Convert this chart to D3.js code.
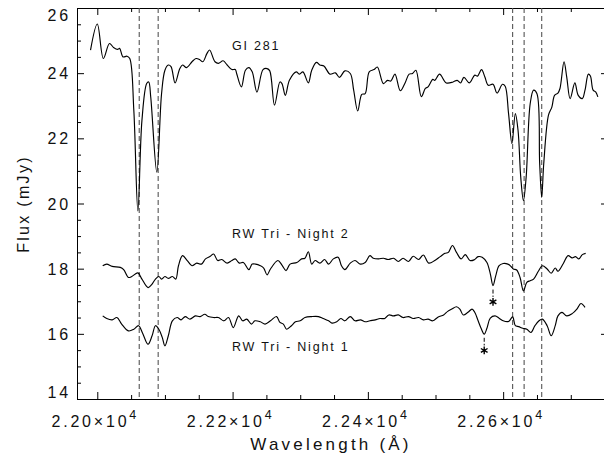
<!DOCTYPE html>
<html>
<head>
<meta charset="utf-8">
<script src="https://cdn.jsdelivr.net/npm/d3@7"></script>
<style>
  body { margin: 0; background: #fff; }
  text { font-family: "Liberation Sans", Arial, sans-serif; fill: #111; }
</style>
</head>
<body>
<script>
// GI 281 spectrum (wavelength in Angstrom, flux in mJy)
const gi281Wave = [21990,22000,22009,22018,22024,22030,22033,22038,22044,22048,22054,22060,22066,22073,22076,22079,22088,22095,22100,22105,22109,22115,22122,22126,22132,22140,22146,22151,22156,22162,22166,22174,22179,22186,22192,22199,22204,22206,22213,22219,22224,22229,22236,22245,22251,22255,22262,22270,22273,22278,22284,22294,22299,22304,22312,22317,22324,22329,22335,22344,22352,22358,22366,22374,22379,22385,22391,22396,22402,22409,22414,22423,22429,22434,22440,22448,22455,22461,22466,22471,22479,22485,22489,22496,22499,22506,22516,22526,22532,22537,22542,22550,22558,22562,22568,22573,22578,22585,22591,22599,22603,22608,22613,22618,22622,22626,22630,22634,22640,22645,22650,22654,22657,22660,22667,22672,22676,22681,22684,22690,22694,22699,22706,22711,22717,22721,22726,22729,22733,22737,22740];
const gi281Flux = [24.71,25.51,24.45,24.91,24.79,24.73,24.76,24.50,24.52,24.45,22.86,19.77,22.55,23.68,23.73,23.27,20.96,23.37,24.09,24.25,24.20,23.70,24.14,24.25,24.17,24.35,24.45,24.42,24.35,24.60,24.71,24.35,24.30,24.38,24.25,24.11,24.11,23.99,23.58,24.09,24.17,24.04,23.42,24.11,24.14,24.07,23.02,23.73,23.68,23.32,23.78,24.04,23.97,24.04,23.70,24.09,24.33,24.25,24.22,23.97,24.01,23.87,24.07,23.99,23.48,22.84,23.35,23.37,24.04,24.11,24.19,23.68,23.78,23.76,23.97,23.46,23.70,23.97,23.99,24.09,23.28,23.53,23.58,23.81,23.78,23.97,23.70,23.73,23.78,23.70,23.87,23.70,23.94,23.91,24.11,23.88,23.63,23.66,23.39,23.66,23.60,22.76,21.84,22.76,22.25,20.81,20.09,20.81,23.07,23.48,23.37,21.22,20.19,21.22,22.71,22.96,23.32,23.39,23.53,24.35,23.88,23.22,23.70,23.32,23.22,23.48,23.97,23.91,23.48,23.42,23.27];

// RW Tri, night 2
const night2Wave = [22008,22014,22022,22034,22039,22046,22051,22060,22066,22075,22080,22086,22091,22095,22100,22105,22111,22116,22120,22126,22133,22140,22147,22154,22160,22167,22172,22178,22184,22192,22199,22204,22210,22216,22224,22229,22234,22241,22246,22251,22256,22267,22273,22279,22285,22295,22302,22307,22312,22317,22322,22329,22336,22342,22349,22356,22361,22366,22374,22381,22389,22396,22403,22408,22416,22423,22430,22438,22445,22452,22460,22467,22475,22482,22490,22499,22507,22514,22519,22525,22531,22538,22544,22551,22557,22563,22569,22576,22581,22585,22589,22594,22600,22607,22612,22615,22620,22625,22630,22635,22640,22645,22652,22658,22665,22671,22677,22681,22689,22696,22702,22707,22712,22717,22722];
const night2Flux = [18.09,18.14,18.07,18.04,17.97,17.73,17.76,17.87,17.68,17.42,17.50,17.68,17.76,17.68,17.76,17.70,17.76,17.68,18.09,18.40,18.25,18.09,18.17,18.14,18.30,18.38,18.45,18.25,18.28,18.17,18.25,18.30,18.17,18.19,17.97,18.14,18.14,18.09,18.02,17.81,17.99,18.25,18.11,17.94,18.14,18.19,18.30,18.32,18.52,18.14,18.25,18.17,18.28,18.14,18.30,18.35,18.09,17.97,18.17,18.25,18.14,18.19,18.40,18.32,18.30,18.32,18.28,18.32,18.22,18.32,18.22,18.38,18.28,18.42,18.17,18.25,18.37,18.47,18.50,18.71,18.50,18.30,18.43,18.25,18.27,18.37,18.35,18.19,17.84,17.48,17.78,18.09,18.16,18.14,18.06,17.99,17.96,17.73,17.32,17.58,17.63,17.68,17.92,18.09,17.99,17.86,18.02,17.92,18.16,18.40,18.33,18.37,18.30,18.43,18.47];

// RW Tri, night 1
const night1Wave = [22008,22014,22022,22029,22036,22046,22054,22061,22067,22075,22081,22086,22091,22096,22100,22105,22111,22118,22124,22130,22137,22145,22152,22159,22164,22172,22179,22187,22194,22201,22209,22215,22221,22228,22233,22241,22248,22256,22265,22270,22275,22280,22287,22293,22300,22307,22317,22327,22334,22342,22347,22354,22360,22366,22374,22381,22389,22396,22403,22411,22418,22425,22431,22438,22445,22452,22460,22467,22475,22482,22489,22496,22504,22512,22518,22524,22531,22536,22541,22548,22554,22558,22563,22568,22572,22576,22581,22588,22594,22600,22608,22614,22618,22623,22629,22635,22641,22647,22653,22658,22665,22671,22677,22681,22687,22694,22702,22709,22715,22721];
const night1Flux = [16.55,16.47,16.43,16.50,16.30,16.09,16.14,16.25,16.02,15.68,15.94,16.25,16.14,15.89,15.63,15.94,16.40,16.50,16.43,16.53,16.45,16.55,16.53,16.60,16.53,16.50,16.50,16.40,16.50,16.19,16.55,16.40,16.45,16.30,16.40,16.37,16.30,16.40,16.53,16.35,16.30,16.14,16.25,16.37,16.40,16.50,16.53,16.53,16.47,16.40,16.33,16.37,16.47,16.40,16.53,16.40,16.43,16.37,16.40,16.43,16.47,16.47,16.58,16.55,16.58,16.50,16.53,16.47,16.50,16.43,16.45,16.40,16.52,16.58,16.69,16.76,16.83,16.76,16.58,16.66,16.76,16.66,16.40,16.14,15.99,16.17,16.48,16.55,16.48,16.40,16.38,16.52,16.25,16.22,16.17,16.14,16.04,16.25,16.40,16.45,16.25,15.94,16.25,16.55,16.66,16.55,16.62,16.76,16.93,16.81];

// line identifications (Na I doublet, Ca I triplet)
const lineWaves = [22062, 22090, 22614, 22631, 22657];

// marked features: [wavelength, flux at tick top, flux of asterisk]
const starMarks = [[22585, 17.42, 16.98], [22572, 15.94, 15.49]];

const xMajor = [22000, 22200, 22400, 22600];
const xMantissa = ["2.20", "2.22", "2.24", "2.26"];
const xExponent = "4";
const yMajor = [14, 16, 18, 20, 22, 24, 26];

const W = 604, H = 456;
const mLeft = 77, mRight = 608, mTop = 8, mBottom = 399;

const svg = d3.select("body").append("svg")
  .attr("width", W).attr("height", H)
  .attr("xmlns", "http://www.w3.org/2000/svg");

const x = d3.scaleLinear().domain([21970, 22755]).range([mLeft, mRight]);
const y = d3.scaleLinear().domain([14, 26]).range([mBottom, mTop]);

const xMinor = d3.range(21950, 22800, 50).filter(v => v > 21970 && v < 22755 && xMajor.indexOf(v) < 0);
const yMinor = d3.range(14, 26.01, 0.5).filter(v => yMajor.indexOf(v) < 0);

// axes with inward ticks, major 7px and minor 4px
const axes = [
  [d3.axisBottom, x, `translate(0,${mBottom})`, xMajor, xMinor],
  [d3.axisTop, x, `translate(0,${mTop})`, xMajor, xMinor],
  [d3.axisLeft, y, `translate(${mLeft},0)`, yMajor, yMinor],
  [d3.axisRight, y, `translate(${mRight},0)`, yMajor, yMinor]
];
axes.forEach(([make, sc, tr, maj, min]) => {
  svg.append("g").attr("transform", tr)
    .call(make(sc).tickValues(maj).tickSize(-7).tickSizeOuter(0).tickFormat(""));
  svg.append("g").attr("transform", tr)
    .call(make(sc).tickValues(min).tickSize(-4).tickSizeOuter(0).tickFormat(""));
});
svg.selectAll(".domain, .tick line").attr("stroke", "#000").attr("stroke-width", 1);

// x tick labels  2.20x10^4
xMajor.forEach((v, i) => {
  const t = svg.append("text")
    .attr("x", x(v) - 2).attr("y", 427)
    .attr("text-anchor", "middle")
    .style("font-size", "16px").style("letter-spacing", "2.8px");
  t.append("tspan").text(xMantissa[i] + "\u00d710");
  t.append("tspan").attr("dy", -8).style("font-size", "12.5px").text(xExponent);
});

// y tick labels, end labels pulled inside like the original
yMajor.forEach((v, i) => {
  let cy = y(v);
  if (i === yMajor.length - 1) cy += 7;
  if (i === 0) cy -= 7;
  svg.append("text")
    .attr("x", 71).attr("y", cy + 6)
    .attr("text-anchor", "end")
    .style("font-size", "16px").style("letter-spacing", "2.8px")
    .text(v);
});

// axis titles
svg.append("text")
  .attr("x", 331).attr("y", 450)
  .attr("text-anchor", "middle")
  .style("font-size", "17px").style("letter-spacing", "3.2px")
  .text("Wavelength (\u00c5)");
svg.append("text")
  .attr("transform", `translate(29,204) rotate(-90)`)
  .attr("text-anchor", "middle")
  .style("font-size", "16px").style("letter-spacing", "2.3px")
  .text("Flux (mJy)");

// dashed line markers
svg.selectAll("line.ident").data(lineWaves).enter().append("line")
  .attr("class", "ident")
  .attr("x1", d => x(d)).attr("x2", d => x(d))
  .attr("y1", mTop).attr("y2", mBottom)
  .attr("stroke", "#555").attr("stroke-width", 1.1)
  .attr("stroke-dasharray", "5,3");

// spectra
const line = d3.line()
  .x(d => x(d[0])).y(d => y(d[1]))
  .curve(d3.curveCatmullRom.alpha(0.5));

[[gi281Wave, gi281Flux], [night2Wave, night2Flux], [night1Wave, night1Flux]].forEach(([w, f]) => {
  svg.append("path")
    .datum(d3.zip(w, f))
    .attr("fill", "none")
    .attr("stroke", "#000")
    .attr("stroke-width", 1.15)
    .attr("d", line);
});

// asterisk marks
starMarks.forEach(([w, f0, fs]) => {
  svg.append("line")
    .attr("x1", x(w)).attr("x2", x(w))
    .attr("y1", y(f0) + 2).attr("y2", y(fs) - 5)
    .attr("stroke", "#000").attr("stroke-width", 1)
    .attr("stroke-dasharray", "4,2");
  svg.append("path")
    .attr("transform", `translate(${x(w)},${y(fs)})`)
    .attr("d", d3.symbol(d3.symbolAsterisk, 42)())
    .attr("fill", "none").attr("stroke", "#000").attr("stroke-width", 1.4);
});

// series labels
const labels = [["GI 281", 24.71], ["RW Tri - Night 2", 18.95], ["RW Tri - Night 1", 15.46]];
labels.forEach(([s, f]) => {
  svg.append("text")
    .attr("x", 232).attr("y", y(f))
    .style("font-size", "12.5px").style("letter-spacing", "1.8px")
    .text(s);
});
</script>
</body>
</html>
